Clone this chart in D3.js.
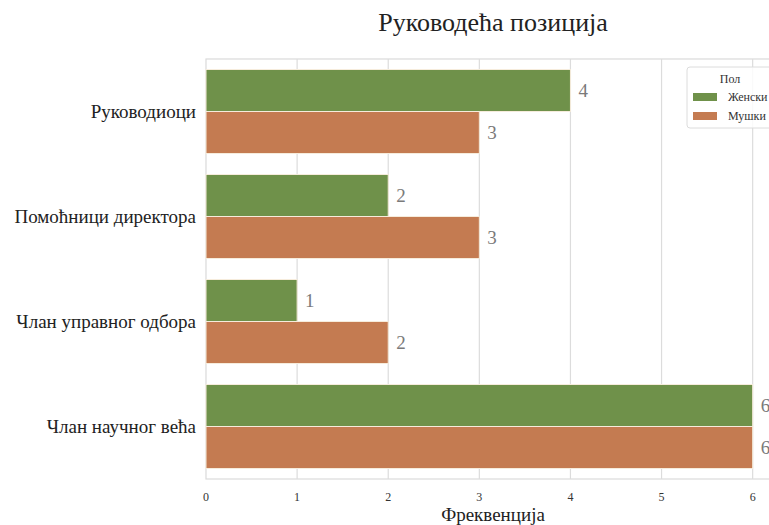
<!DOCTYPE html>
<html>
<head>
<meta charset="utf-8">
<script src="https://cdn.jsdelivr.net/npm/d3@7"></script>
<style>
  html, body { margin: 0; padding: 0; background: #fff; }
  svg { display: block; }
  text { font-family: "Liberation Serif", "DejaVu Serif", serif; }
</style>
</head>
<body>
<svg id="chart" width="769" height="525"></svg>
<script>
// Positions held by gender
const categories = ["Руководиоци", "Помоћници директора", "Члан управног одбора", "Члан научног већа"];
const seriesNames = ["Женски", "Мушки"];
const femaleValues = [4, 2, 1, 6];
const maleValues = [3, 3, 2, 6];
const xTicks = [0, 1, 2, 3, 4, 5, 6];
const colors = ["#6f914a", "#c47b51"];

const title = "Руководећа позиција";
const xLabel = "Фреквенција";
const legendTitle = "Пол";

const svg = d3.select("#chart");
const plot = { left: 206, top: 59, right: 780, bottom: 479 };

const x = d3.scaleLinear().domain([0, 6.3]).range([plot.left, plot.right]);
const y = d3.scaleBand().domain(categories).range([plot.top, plot.bottom]).padding(0);
const inner = d3.scaleBand().domain(seriesNames).range([0, y.bandwidth() * 0.8]).padding(0);
const offset = y.bandwidth() * 0.1;

// Plot frame
svg.append("rect")
  .attr("x", plot.left).attr("y", plot.top)
  .attr("width", plot.right - plot.left).attr("height", plot.bottom - plot.top)
  .attr("fill", "#fff").attr("stroke", "#dadada").attr("stroke-width", 1.2);

// Vertical grid lines
svg.append("g").selectAll("line").data(xTicks.slice(1)).join("line")
  .attr("x1", d => x(d)).attr("x2", d => x(d))
  .attr("y1", plot.top).attr("y2", plot.bottom)
  .attr("stroke", "#dcdcdc").attr("stroke-width", 1.2);

// Bars
const rows = categories.map((c, i) => ({ cat: c, vals: [femaleValues[i], maleValues[i]] }));
const groups = svg.append("g").selectAll("g").data(rows).join("g")
  .attr("transform", d => `translate(0,${y(d.cat) + offset})`);

groups.selectAll("rect").data(d => d.vals.map((v, j) => ({ v, s: seriesNames[j], j }))).join("rect")
  .attr("x", x(0))
  .attr("y", d => inner(d.s))
  .attr("width", d => x(d.v) - x(0))
  .attr("height", inner.bandwidth())
  .attr("fill", d => colors[d.j])
  .attr("stroke", "#f6ecdc").attr("stroke-width", 1);

// Value labels
groups.selectAll("text").data(d => d.vals.map((v, j) => ({ v, s: seriesNames[j] }))).join("text")
  .attr("x", d => x(d.v) + 8)
  .attr("y", d => inner(d.s) + inner.bandwidth() / 2)
  .attr("dy", "0.35em")
  .attr("font-size", 19)
  .attr("fill", "#7a7a7a")
  .text(d => d.v);

// X axis tick labels
svg.append("g").selectAll("text").data(xTicks).join("text")
  .attr("x", d => x(d)).attr("y", 497)
  .attr("dy", "0.35em")
  .attr("text-anchor", "middle")
  .attr("font-size", 12)
  .attr("fill", "#333")
  .text(d => d);

// Category labels
svg.append("g").selectAll("text").data(categories).join("text")
  .attr("x", plot.left - 10)
  .attr("y", d => y(d) + y.bandwidth() / 2)
  .attr("dy", "0.35em")
  .attr("text-anchor", "end")
  .attr("font-size", 19)
  .attr("fill", "#222")
  .text(d => d);

// Title and axis label
svg.append("text")
  .attr("x", (plot.left + plot.right) / 2).attr("y", 31)
  .attr("text-anchor", "middle").attr("font-size", 26).attr("fill", "#222")
  .text(title);

svg.append("text")
  .attr("x", (plot.left + plot.right) / 2).attr("y", 521)
  .attr("text-anchor", "middle").attr("font-size", 19).attr("fill", "#222")
  .text(xLabel);

// Legend
const lg = svg.append("g").attr("transform", "translate(687,67)");
lg.append("rect").attr("width", 110).attr("height", 61).attr("rx", 3)
  .attr("fill", "#fff").attr("fill-opacity", 0.85)
  .attr("stroke", "#dcdcdc");
lg.append("text").attr("x", 43).attr("y", 16)
  .attr("text-anchor", "middle").attr("font-size", 12).attr("fill", "#333")
  .text(legendTitle);
seriesNames.forEach((s, i) => {
  lg.append("rect").attr("x", 6).attr("y", 26 + i * 19).attr("width", 24).attr("height", 8)
    .attr("fill", colors[i]);
  lg.append("text").attr("x", 41).attr("y", 30 + i * 19).attr("dy", "0.35em")
    .attr("font-size", 12).attr("fill", "#333").text(s);
});
</script>
</body>
</html>
